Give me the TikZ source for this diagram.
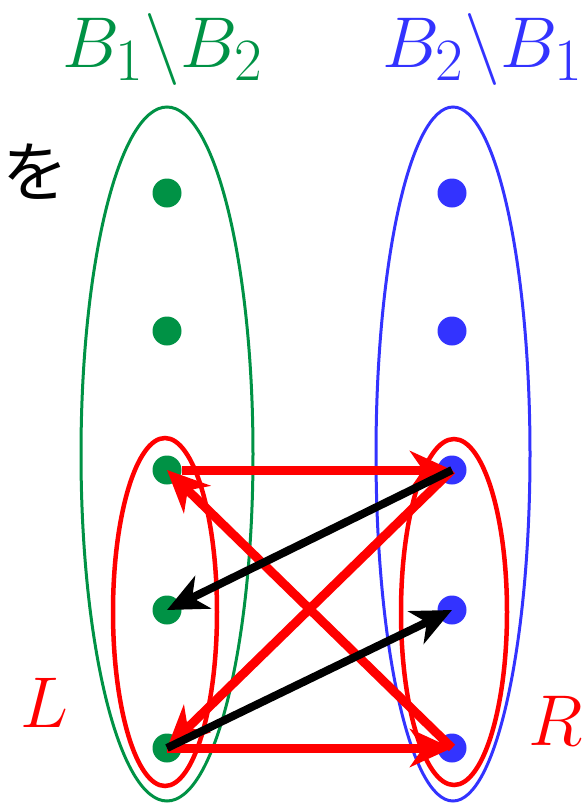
\documentclass[tikz,border=0pt]{standalone}
\usepackage{fontspec}
\newfontfamily\jpfont{Noto Sans CJK JP}
\usetikzlibrary{arrows.meta}
\definecolor{setgreen}{HTML}{009245}
\definecolor{setblue}{HTML}{3333FF}
\definecolor{setred}{HTML}{FF0000}
\newcommand{\biglab}[1]{\scalebox{2.894}{\Huge #1}}
\tikzset{
  gdot/.style={circle, fill=setgreen, minimum size=29pt, inner sep=0pt},
  bdot/.style={circle, fill=setblue, minimum size=29pt, inner sep=0pt},
  redarr/.style={draw=setred, line width=9pt, -{Stealth[length=42pt, width=38pt, inset=13pt]}},
  blkarr/.style={draw=black, line width=8pt, -{Stealth[length=40pt, width=36pt, inset=12pt]}},
  biglabel/.style={inner sep=0pt}
}

\begin{document}
\begin{tikzpicture}[x=1pt, y=-1pt]
\useasboundingbox (0,0) rectangle (587,804);
% the two sets
\draw[setgreen, line width=3pt] (167,454) ellipse [x radius=86pt, y radius=347pt];
\draw[setblue, line width=3pt] (453,454) ellipse [x radius=77pt, y radius=347pt];
\node[biglabel, text=setgreen, anchor=base west] (lblgreen) at (62,67) {\biglab{$B_1\backslash B_2$}};
\node[biglabel, text=setblue, anchor=base west] (lblblue) at (382,67) {\biglab{$B_2\backslash B_1$}};
\node[font=\jpfont\fontsize{66}{70}\selectfont, inner sep=0pt] (wo) at (35,172) {を};
%
% the parts L and R
\draw[setred, line width=4.5pt] (165,612) ellipse [x radius=52pt, y radius=174pt];
\draw[setred, line width=4.5pt] (454,612) ellipse [x radius=53pt, y radius=173pt];
\node[biglabel, text=setred, anchor=base west] (lblL) at (20,727) {\biglab{$L$}};
\node[biglabel, text=setred, anchor=base west] (lblR) at (528,745) {\biglab{$R$}};
%
% points
\node[gdot] (g1) at (167,193) {};
\node[gdot] (g2) at (167,331) {};
\node[gdot] (g3) at (167,470) {};
\node[gdot] (g4) at (167,610) {};
\node[gdot] (g5) at (167,748) {};
\node[bdot] (b1) at (452,193) {};
\node[bdot] (b2) at (452,331) {};
\node[bdot] (b3) at (452,470) {};
\node[bdot] (b4) at (452,610) {};
\node[bdot] (b5) at (452,748) {};
%
% edges
\draw[redarr] (g3) -- (b3.center);
\draw[redarr] (g5.center) -- (b5.center);
\draw[redarr] (b3.center) -- (g5.center);
\draw[redarr] (b5.center) -- (g3.center);
\draw[blkarr] (b3.center) -- (g4.center);
\draw[blkarr] (g5.center) -- (b4.center);
\end{tikzpicture}
\end{document}
